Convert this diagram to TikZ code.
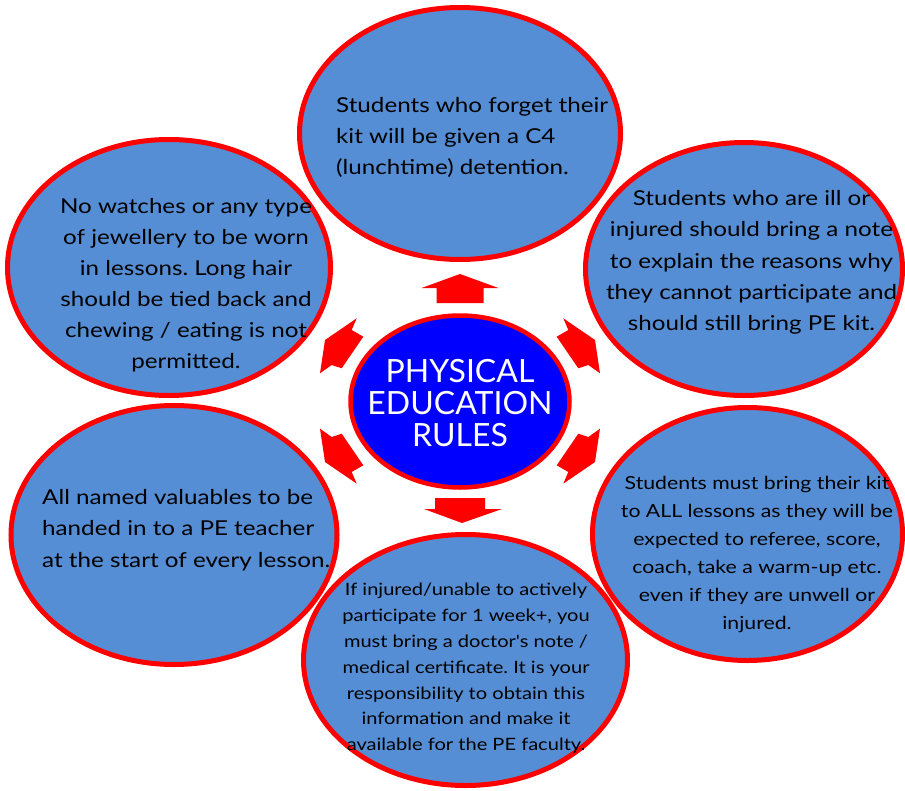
\documentclass[tikz,border=0pt]{standalone}
\usepackage{fontspec}
\setmainfont{Lato}[FakeStretch=1.18]
\newfontfamily\plainquote{Lato}[FakeStretch=1.18, Ligatures=ResetAll]
\newfontfamily\corefont{Lato}
\usetikzlibrary{shapes.geometric}
\definecolor{bubble}{RGB}{85,142,213}
\definecolor{rimred}{RGB}{255,0,0}
\definecolor{coreblue}{RGB}{0,0,255}
\tikzset{
  bubble/.style={ellipse, draw=rimred, line width=5pt, fill=bubble, inner sep=0pt},
  core/.style={ellipse, draw=rimred, line width=4.5pt, fill=coreblue, inner sep=0pt},
  rule/.style={inner sep=0pt, text=black},
  blockarrow/.style={fill=rimred, draw=none},
}
\frenchspacing
\begin{document}
\begin{tikzpicture}[x=1pt,y=-1pt]
\useasboundingbox (0,0) rectangle (905,790);
\fill[white] (0,0) rectangle (905,790);
% bubbles
\node[bubble, minimum width=321pt, minimum height=252pt] (top) at (460,133.5) {};
\node[bubble, minimum width=323pt, minimum height=256pt] (ul) at (169,267.5) {};
\node[bubble, minimum width=317pt, minimum height=253pt] (ur) at (744,269) {};
\node[bubble, minimum width=326pt, minimum height=259pt] (ll) at (174,535) {};
\node[bubble, minimum width=310pt, minimum height=253pt] (lr) at (747.5,534) {};
\node[bubble, minimum width=324pt, minimum height=251pt] (bot) at (465.5,660) {};
% centre
\node[core, minimum width=219pt, minimum height=172pt] (c) at (460,401.5) {};
% block arrows
\fill[blockarrow] (460,274) -- (498.5,288) -- (483.5,288) -- (483.5,303) -- (436.5,303) -- (436.5,288) -- (421.5,288) -- cycle;
\fill[blockarrow] (462,523) -- (502,509) -- (485,509) -- (485,498) -- (435,498) -- (435,509) -- (424,509) -- cycle;
% upper-left
\fill[blockarrow] (325,340) -- (356.7,318.3) -- (351.7,330) -- (363.3,336.7) -- (341.7,368.3) -- (331.7,365) -- (320,373.3) -- cycle;
% upper-right (mirror)
\fill[blockarrow] (595,340) -- (563.3,318.3) -- (568.3,330) -- (556.7,336.7) -- (578.3,368.3) -- (588.3,365) -- (600,373.3) -- cycle;
% lower-left (mirror)
\fill[blockarrow] (325,462) -- (356.7,483.7) -- (351.7,472) -- (363.3,465.3) -- (341.7,433.7) -- (331.7,437) -- (320,428.7) -- cycle;
% lower-right (mirror)
\fill[blockarrow] (595,462) -- (563.3,483.7) -- (568.3,472) -- (556.7,465.3) -- (578.3,433.7) -- (588.3,437) -- (600,428.7) -- cycle;
% texts
\node[rule, anchor=west, align=left, font=\fontsize{20.5}{31}\selectfont] (ttop) at (336,137)
  {Students who forget their\\kit will be given a C4\\(lunchtime) detention.};
\node[rule, align=center, font=\fontsize{20.5}{31}\selectfont] (tul) at (186,285)
  {No watches or any type\\of jewellery to be worn\\in lessons. Long hair\\should be tied back and\\chewing / eating is not\\permitted.};
\node[rule, align=center, font=\fontsize{20.5}{31.3}\selectfont] (tur) at (751.5,262.5)
  {Students who are ill or\\injured should bring a note\\to explain the reasons why\\they cannot participate and\\should still bring PE kit.};
\node[rule, anchor=west, align=left, font=\fontsize{20.5}{31.5}\selectfont] (tll) at (42,530)
  {All named valuables to be\\handed in to a PE teacher\\at the start of every lesson.};
\node[rule, align=center, font=\fontsize{18}{28}\selectfont] (tlr) at (757,555)
  {Students must bring their kit\\to ALL lessons as they will be\\expected to referee, score,\\coach, take a warm-up etc.\\even if they are unwell or\\injured.};
\node[rule, align=center, font=\fontsize{17}{25.8}\selectfont] (tbot) at (466,668.5)
  {If injured/unable to actively\\participate for 1 week+, you\\must bring a doctor{\plainquote 's} note /\\medical certificate. It is your\\responsibility to obtain this\\information and make it\\available for the PE faculty.};
\node[rule, text=white, align=center, font=\corefont\fontsize{32}{32}\selectfont] (tc) at (460,403)
  {PHYSICAL\\EDUCATION\\RULES};
\end{tikzpicture}
\end{document}
